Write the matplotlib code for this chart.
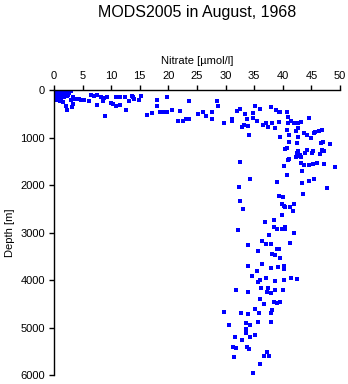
import matplotlib
matplotlib.use("Agg")
import matplotlib.pyplot as plt
import numpy as np

plt.rcParams["font.family"] = ["Liberation Sans", "DejaVu Sans"]

TITLE = "MODS2005 in August, 1968"
XLABEL = "Nitrate [\u00b5mol/l]"
YLABEL = "Depth [m]"
XTICKS = [0, 5, 10, 15, 20, 25, 30, 35, 40, 45, 50]
YTICKS = [0, 1000, 2000, 3000, 4000, 5000, 6000]

# near-surface samples (nitrate, depth)
surface = [
    (0.1, 10), (0.3, 20), (0.5, 15), (0.8, 30), (1.0, 10), (1.3, 25), (1.6, 20),
    (0.2, 50), (0.6, 60), (1.0, 55), (1.4, 70), (0.4, 90), (0.9, 100), (1.5, 110),
    (2.0, 60), (2.4, 40), (2.7, 70), (0.3, 130), (0.8, 150), (1.2, 170), (1.7, 140),
    (2.2, 120), (3.3, 140), (2.9, 210), (0.5, 200), (1.1, 230), (0.2, 5), (2.0, 10),
    (2.5, 100), (3.0, 30),
]

# upper water column, 0-1500 m
upper = [
    (2.2, 420), (3.1, 365), (2.1, 330), (1.6, 260), (3.4, 300), (3.6, 180), (4.4, 190),
    (4.8, 200), (5.3, 215), (6.1, 240), (6.4, 100), (7.0, 130), (7.6, 110), (8.2, 150),
    (8.8, 160), (7.5, 320), (8.9, 550), (8.5, 240), (9.3, 150), (9.9, 270), (10.3, 300),
    (10.8, 330), (11.5, 320), (10.8, 150), (11.6, 140), (12.4, 150), (12.6, 430),
    (13.2, 240), (13.9, 140), (13.6, 126), (15.3, 120), (14.0, 180), (14.8, 220),
    (16.2, 525), (17.1, 490), (18.1, 200), (18.1, 330), (18.5, 460), (19.1, 470),
    (19.7, 470), (19.7, 150), (20.6, 420), (21.6, 650), (22.0, 440), (22.6, 650),
    (23.0, 600), (23.6, 600), (23.6, 240), (25.2, 510), (26.1, 470), (26.5, 550),
    (27.6, 470), (27.6, 610), (28.5, 240), (28.6, 330), (29.8, 700), (31.2, 650),
    (32.0, 440), (32.6, 400), (32.9, 770), (33.4, 510), (33.7, 610), (34.0, 750),
    (34.1, 950), (34.8, 490), (34.8, 590), (35.1, 330), (35.5, 650), (36.1, 400),
    (36.5, 740), (37.1, 690), (37.4, 770), (37.9, 350), (38.1, 700), (38.7, 790),
    (38.9, 420), (39.3, 470), (39.6, 470), (39.4, 670), (39.5, 980), (40.8, 470),
    (40.9, 560), (40.9, 700), (40.7, 840), (41.1, 950), (41.1, 1100), (40.7, 1230),
    (40.9, 1470), (41.5, 650), (42.0, 700), (42.6, 700), (42.6, 790), (42.3, 860),
    (42.6, 980), (42.5, 1120), (42.6, 1290), (42.3, 1420), (42.9, 1380), (43.2, 670),
    (43.7, 900), (44.3, 950), (44.2, 1260), (44.6, 580), (44.9, 1000), (45.4, 900),
    (45.7, 880), (46.9, 840), (47.1, 1100), (46.9, 1260), (47.2, 1290), (48.2, 1140),
    (45.2, 1280), (31.1, 620), (33.2, 740), (46.3, 860), (46.6, 1110), (43.0, 1370),
    (40.4, 1250),
]

# intermediate, 1300-3700 m
middle = [
    (32.5, 1510), (32.4, 2050), (32.5, 2340), (33.1, 2510), (32.2, 2950), (34.3, 1880),
    (33.9, 3260), (35.6, 3390), (36.4, 3170), (36.9, 2770), (37.0, 3250), (37.9, 3250),
    (37.6, 3050), (38.1, 3450), (38.6, 3470), (38.5, 2740), (38.5, 2880), (39.0, 1940),
    (39.0, 2930), (39.8, 2930), (39.0, 3340), (39.4, 3340), (39.6, 3540), (39.3, 2230),
    (39.8, 2400), (40.0, 2250), (40.2, 2440), (40.4, 2460), (39.8, 2630), (40.3, 2880),
    (40.4, 2930), (40.8, 1790), (40.2, 1600), (41.2, 2460), (41.2, 3230), (41.9, 2410),
    (41.8, 2540), (41.9, 3000), (42.4, 1320), (43.1, 1530), (43.3, 1960), (43.4, 1700),
    (43.5, 2180), (43.7, 1580), (44.6, 1580), (44.6, 1920), (45.3, 1560), (45.5, 1880),
    (45.9, 1530), (46.5, 1350), (47.2, 1560), (47.8, 2060), (49.2, 1630), (45.1, 1330),
    (43.9, 1330), (43.1, 1420), (41.1, 1460),
]

# deep water, below 3600 m
deep = [
    (33.9, 3700), (36.4, 3660), (35.5, 3810), (37.9, 3750), (39.2, 3730), (40.2, 3700),
    (40.2, 3760), (34.6, 3920), (35.6, 4050), (36.0, 4000), (37.0, 3950), (38.6, 4020),
    (40.2, 3990), (41.4, 3960), (42.4, 3970), (31.8, 4210), (33.9, 4260), (36.2, 4160),
    (37.4, 4170), (37.3, 4260), (38.0, 4280), (38.6, 4210), (40.1, 4210), (36.0, 4410),
    (36.7, 4510), (38.4, 4470), (39.5, 4470), (39.0, 4480), (29.7, 4670), (32.7, 4700),
    (33.9, 4710), (35.1, 4610), (35.8, 4690), (37.9, 4700), (38.1, 4640), (30.6, 4950),
    (33.6, 4910), (34.3, 4950), (35.7, 4890), (37.9, 4890), (33.5, 5040), (33.6, 5120),
    (34.3, 5210), (35.2, 5160), (31.7, 5190), (32.9, 5260), (31.3, 5420), (31.8, 5440),
    (33.7, 5400), (34.1, 5450), (31.4, 5630), (37.2, 5520), (36.7, 5600), (37.6, 5600),
    (36.0, 5770), (34.8, 5960),
]

pts = np.array(surface + upper + middle + deep)
nitrate, depth = pts[:, 0], pts[:, 1]

fig = plt.figure(figsize=(3.48, 3.84), dpi=100)
ax = fig.add_axes([0.155, 0.0234, 0.822, 0.7422])
ax.plot(nitrate, depth, ls="none", marker="s", ms=2.2, mew=0, color="#0000ff")

ax.set_xlim(0, 50)
ax.set_ylim(6000, 0)
ax.set_xticks(XTICKS)
ax.set_yticks(YTICKS)
ax.xaxis.tick_top()
ax.xaxis.set_label_position("top")
ax.tick_params(direction="out", length=3.5, width=1, labelsize=8, pad=3)
for side in ("right", "bottom"):
    ax.spines[side].set_visible(False)
for side in ("left", "top"):
    ax.spines[side].set_linewidth(1)
ax.set_xlabel(XLABEL, fontsize=8, labelpad=5)
ax.set_ylabel(YLABEL, fontsize=8, labelpad=4)

fig.text(0.155 + 0.822 / 2, 1 - 13 / 384, TITLE, ha="center", va="center", fontsize=11.5)
fig.savefig("out.png", dpi=100)
